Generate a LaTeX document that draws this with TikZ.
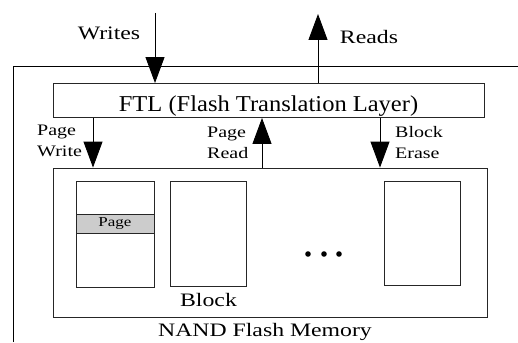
\documentclass[tikz,border=0pt]{standalone}
\usepackage{fontspec}
\setmainfont{Liberation Serif}[FakeStretch=1.25]
\newfontfamily\ftlfont{Liberation Serif}[FakeStretch=1.08]
\usetikzlibrary{positioning}
\usetikzlibrary{arrows.meta}

\tikzset{
	box/.style={draw=black!85, line width=0.9pt, inner sep=0pt},
	bigarrow/.style={line width=0.9pt, -{Triangle[length=26pt,width=19pt]}},
	lbl/.style={inner sep=0pt, align=left, font=\fontsize{16}{21}\selectfont},
	bigtext/.style={inner sep=0pt, font=\fontsize{19}{23}\selectfont},
}

\begin{document}
\begin{tikzpicture}[x=1pt,y=-1pt]
	
	% ------------------------------------------------
	% Ensure the dimensions of graphic are appropriate
	\useasboundingbox (0,0) rectangle (518,342);
	
	% ------------------------------------------------
	% Relevant coordinates
	\coordinate (FrameBot)    at (13,342);
	\coordinate (FrameCorner) at (13,66);
	\coordinate (FrameEnd)    at (518,66);
	
	\coordinate (WritesTop)  at (155,13);
	\coordinate (ReadsTop)   at (318,14);
	\coordinate (PageWriteX) at (93,0);
	\coordinate (PageReadX)  at (262,0);
	\coordinate (EraseX)     at (380,0);
	
	% ----------------
	% Outer frame
	\draw[line width=0.9pt] (FrameBot) -- (FrameCorner) -- (FrameEnd);
	
	% ----------------
	% FTL layer
	\node[box, minimum width=431pt, minimum height=34pt] (FTLBox) at (268.5,100.5) {};
	\node[inner sep=0pt, anchor=base, font=\ftlfont\fontsize{22.7}{26}\selectfont] (FTLText) at (268.5,111.5) {FTL (Flash Translation Layer)};
	
	% ----------------
	% NAND flash memory with its blocks
	\node[box, minimum width=434pt, minimum height=149pt] (NANDBox) at (270,242.5) {};
	
	\node[box, minimum width=78pt, minimum height=106pt] (BlockOne)   at (115,234) {};
	\node[box, minimum width=76pt, minimum height=105pt] (BlockTwo)   at (208,233.5) {};
	\node[box, minimum width=76pt, minimum height=104pt] (BlockLast)  at (422,233) {};
	\node[box, fill=gray!40, minimum width=78pt, minimum height=19pt, font=\fontsize{13.6}{16}\selectfont] (PageStrip) at (115,223.5) {Page};
	
	\foreach \x in {308,324,339}
		\fill (\x,254) circle (2.8pt);
	
	\node[bigtext, anchor=base] (BlockText) at (208.5,306.5) {Block};
	\node[bigtext, anchor=base] (NANDText)  at (265,336.5) {NAND Flash Memory};
	
	% ----------------
	% Host requests
	\draw[bigarrow] (WritesTop) -- (FTLBox.north -| WritesTop);
	\draw[bigarrow] (FTLBox.north -| ReadsTop) -- (ReadsTop);
	
	\node[bigtext, anchor=base] (WritesText) at (109,39.3) {Writes};
	\node[bigtext, anchor=base] (ReadsText)  at (369,44) {Reads};
	
	% ----------------
	% Flash operations
	\draw[bigarrow] (FTLBox.south -| PageWriteX) -- (NANDBox.north -| PageWriteX);
	\draw[bigarrow] (NANDBox.north -| PageReadX) -- (FTLBox.south -| PageReadX);
	\draw[bigarrow] (FTLBox.south -| EraseX) -- (NANDBox.north -| EraseX);
	
	\node[lbl, anchor=north west] (PageWriteText) at (37,124.4) {Page\\Write};
	\node[lbl, anchor=north west] (PageReadText)  at (207,126.4) {Page\\Read};
	\node[lbl, anchor=north west] (BlockEraseText) at (395,126.1) {Block\\Erase};
	
\end{tikzpicture}
\end{document}
